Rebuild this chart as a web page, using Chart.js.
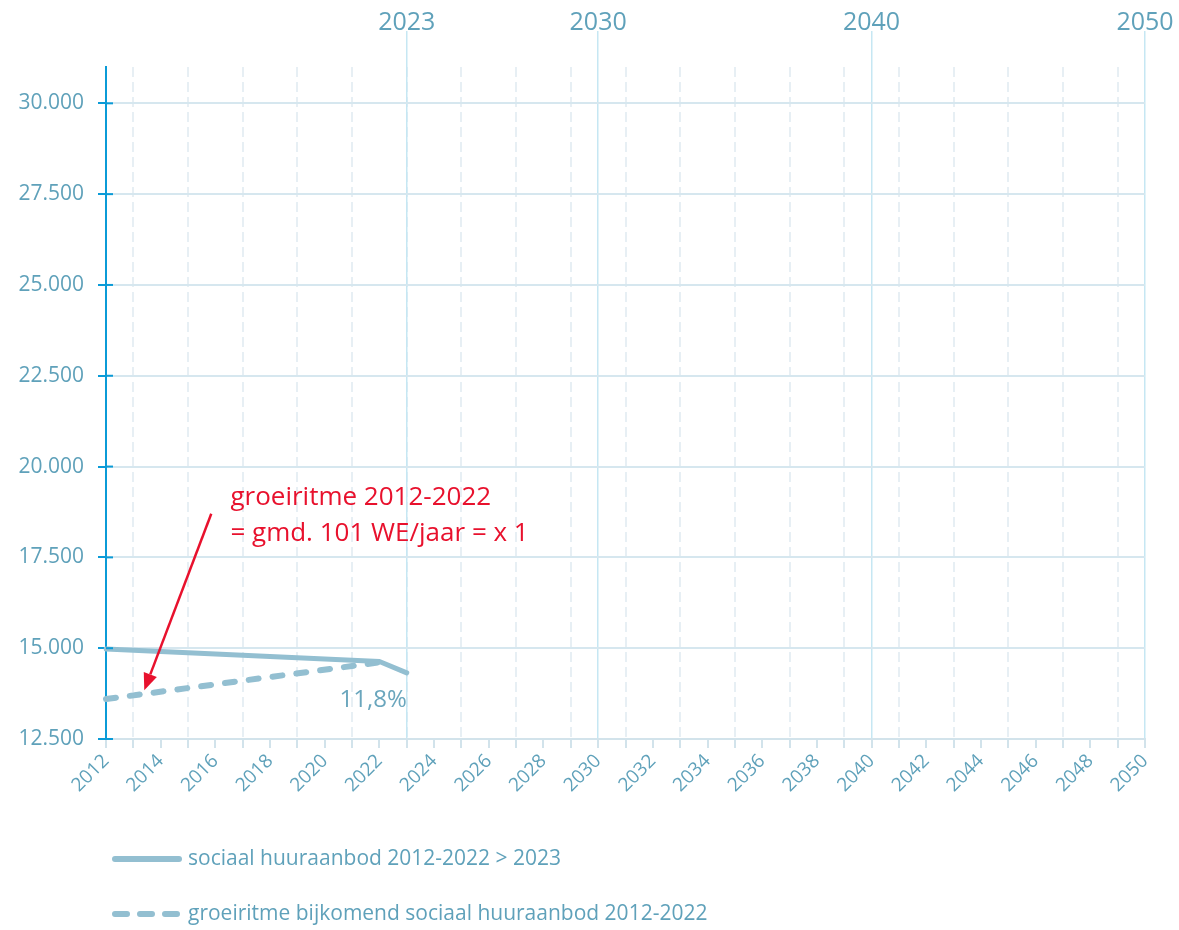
<!DOCTYPE html>
<html>
<head>
<meta charset="utf-8">
<script src="https://cdn.jsdelivr.net/npm/chart.js@4.4.1/dist/chart.umd.min.js"></script>
<style>
html, body { margin: 0; padding: 0; background: #fff; }
#wrap { position: relative; width: 1179px; height: 930px; }
</style>
</head>
<body>
<div id="wrap"><canvas id="myChart"></canvas></div>
<script>
// data
var years = ['2012','2013','2014','2015','2016','2017','2018','2019','2020','2021',
             '2022','2023','2024','2025','2026','2027','2028','2029','2030','2031',
             '2032','2033','2034','2035','2036','2037','2038','2039','2040','2041',
             '2042','2043','2044','2045','2046','2047','2048','2049','2050'];
var topYears = ['2023','2030','2040','2050'];
var yTicks = [12500, 15000, 17500, 20000, 22500, 25000, 27500, 30000];
var aanbod = [14980, null, null, null, null, null, null, null, null, null, 14634, 14320];
var groei  = [13600, null, null, null, null, null, null, null, null, null, 14610];
var seriesNames = ['sociaal huuraanbod 2012-2022 > 2023', 'groeiritme bijkomend sociaal huuraanbod 2012-2022'];

// annotation (x = year index, y = value)
var noteLines = ['groeiritme 2012-2022', '= gmd. 101 WE/jaar = x 1'];
var noteAt = [4.55, 19150];
var arrowFrom = [3.85, 18700];
var arrowTo = [1.4, 13840];
var pctText = '11,8%';
var pctAt = [11, 13570];

var FONT = "'Open Sans', 'Noto Sans', sans-serif";
var lineCol = '#93bfd1';
var textCol = '#5fa1ba';
var red = '#e8112d';

function fmt(v) {
    return String(v).replace(/\B(?=(\d{3})+(?!\d))/g, '.');
}

var extras = {
    id: 'extras',
    afterDraw: function(chart) {
        var ctx = chart.ctx;
        var xs = chart.scales.x, ys = chart.scales.y;
        ctx.save();

        // y ticks crossing the axis
        ctx.strokeStyle = '#0b9bd7';
        ctx.lineWidth = 2;
        ys.ticks.forEach(function(t) {
            var py = ys.getPixelForValue(t.value);
            ctx.beginPath();
            ctx.moveTo(xs.left, py);
            ctx.lineTo(xs.left + 7, py);
            ctx.stroke();
        });

        // red note
        ctx.fillStyle = red;
        ctx.font = '26px ' + FONT;
        ctx.textAlign = 'left';
        ctx.textBaseline = 'middle';
        var nx = xs.getPixelForValue(noteAt[0]);
        var ny = ys.getPixelForValue(noteAt[1]);
        ctx.fillText(noteLines[0], nx, ny);
        ctx.fillText(noteLines[1], nx, ny + 36);

        // arrow
        var x1 = xs.getPixelForValue(arrowFrom[0]), y1 = ys.getPixelForValue(arrowFrom[1]);
        var x2 = xs.getPixelForValue(arrowTo[0]), y2 = ys.getPixelForValue(arrowTo[1]);
        var ang = Math.atan2(y2 - y1, x2 - x1);
        var hl = 17, hw = 7;
        ctx.strokeStyle = red;
        ctx.lineWidth = 2.5;
        ctx.beginPath();
        ctx.moveTo(x1, y1);
        ctx.lineTo(x2 - Math.cos(ang) * hl, y2 - Math.sin(ang) * hl);
        ctx.stroke();
        ctx.beginPath();
        ctx.moveTo(x2, y2);
        ctx.lineTo(x2 - Math.cos(ang) * hl - Math.sin(ang) * hw, y2 - Math.sin(ang) * hl + Math.cos(ang) * hw);
        ctx.lineTo(x2 - Math.cos(ang) * hl + Math.sin(ang) * hw, y2 - Math.sin(ang) * hl - Math.cos(ang) * hw);
        ctx.closePath();
        ctx.fill();

        // percentage label
        ctx.fillStyle = '#6aa6bd';
        ctx.font = '24px ' + FONT;
        ctx.textAlign = 'right';
        ctx.fillText(pctText, xs.getPixelForValue(pctAt[0]), ys.getPixelForValue(pctAt[1]));

        // legend
        var rows = [chart.height - 71, chart.height - 16];
        ctx.font = '21px ' + FONT;
        ctx.textAlign = 'left';
        chart.data.datasets.forEach(function(ds, i) {
            var ry = rows[i];
            ctx.strokeStyle = ds.borderColor;
            ctx.lineWidth = 6;
            ctx.lineCap = 'round';
            ctx.setLineDash(ds.borderDash ? [12, 13] : []);
            ctx.beginPath();
            ctx.moveTo(115, ry);
            ctx.lineTo(i === 0 ? 179 : 177, ry);
            ctx.stroke();
            ctx.setLineDash([]);
            ctx.fillStyle = textCol;
            ctx.fillText(ds.label, 188, ry);
        });
        ctx.restore();
    }
};

var chart = new Chart(document.getElementById('myChart').getContext('2d'), {
    type: 'line',
    data: {
        labels: years,
        datasets: [{
            label: seriesNames[0],
            data: aanbod,
            borderColor: lineCol,
            borderWidth: 5,
            pointRadius: 0,
            spanGaps: true,
            borderCapStyle: 'round',
            borderJoinStyle: 'round'
        }, {
            label: seriesNames[1],
            data: groei,
            borderColor: lineCol,
            borderWidth: 6,
            borderDash: [10, 14],
            borderCapStyle: 'round',
            pointRadius: 0,
            spanGaps: true
        }]
    },
    options: {
        responsive: true,
        maintainAspectRatio: false,
        animation: false,
        layout: { padding: { left: 0, right: 34, top: 0, bottom: 91 } },
        plugins: {
            legend: { display: false },
            tooltip: { enabled: false }
        },
        scales: {
            x: {
                type: 'category',
                position: 'bottom',
                afterFit: function(s) { s.height = 100; },
                border: { color: '#d2e3eb', width: 2, dash: [10, 5] },
                grid: {
                    lineWidth: 2,
                    color: function(c) { return c.index % 2 === 1 ? '#e7eff4' : 'rgba(0,0,0,0)'; },
                    tickColor: '#d2e3eb',
                    tickWidth: 2,
                    tickLength: 9
                },
                ticks: {
                    autoSkip: false,
                    minRotation: 45,
                    maxRotation: 45,
                    padding: 2,
                    color: textCol,
                    font: { family: FONT, size: 19 },
                    callback: function(v, i) { return i % 2 === 0 ? years[i] : ''; }
                }
            },
            xTop: {
                axis: 'x',
                type: 'category',
                position: 'top',
                labels: years,
                afterFit: function(s) { s.height = 67; },
                border: { display: false },
                grid: {
                    lineWidth: 1.5,
                    color: function(c) { return topYears.indexOf(years[c.index]) >= 0 ? '#c6e7f3' : 'rgba(0,0,0,0)'; },
                    tickLength: 36
                },
                ticks: {
                    autoSkip: false,
                    maxRotation: 0,
                    minRotation: 0,
                    padding: -7,
                    color: textCol,
                    font: { family: FONT, size: 25 },
                    callback: function(v, i) { return topYears.indexOf(years[i]) >= 0 ? years[i] : ''; }
                }
            },
            y: {
                min: 12500,
                max: 31000,
                afterFit: function(s) { s.width = 106; },
                afterBuildTicks: function(s) {
                    s.ticks = yTicks.map(function(v) { return { value: v }; });
                },
                border: { color: '#0b9bd7', width: 2 },
                grid: {
                    color: '#d6e7ef',
                    lineWidth: 2,
                    tickColor: '#0b9bd7',
                    tickLength: 8
                },
                ticks: {
                    padding: 14,
                    color: textCol,
                    font: { family: FONT, size: 21 },
                    callback: function(v) { return fmt(v); }
                }
            }
        }
    },
    plugins: [extras]
});
</script>
</body>
</html>
